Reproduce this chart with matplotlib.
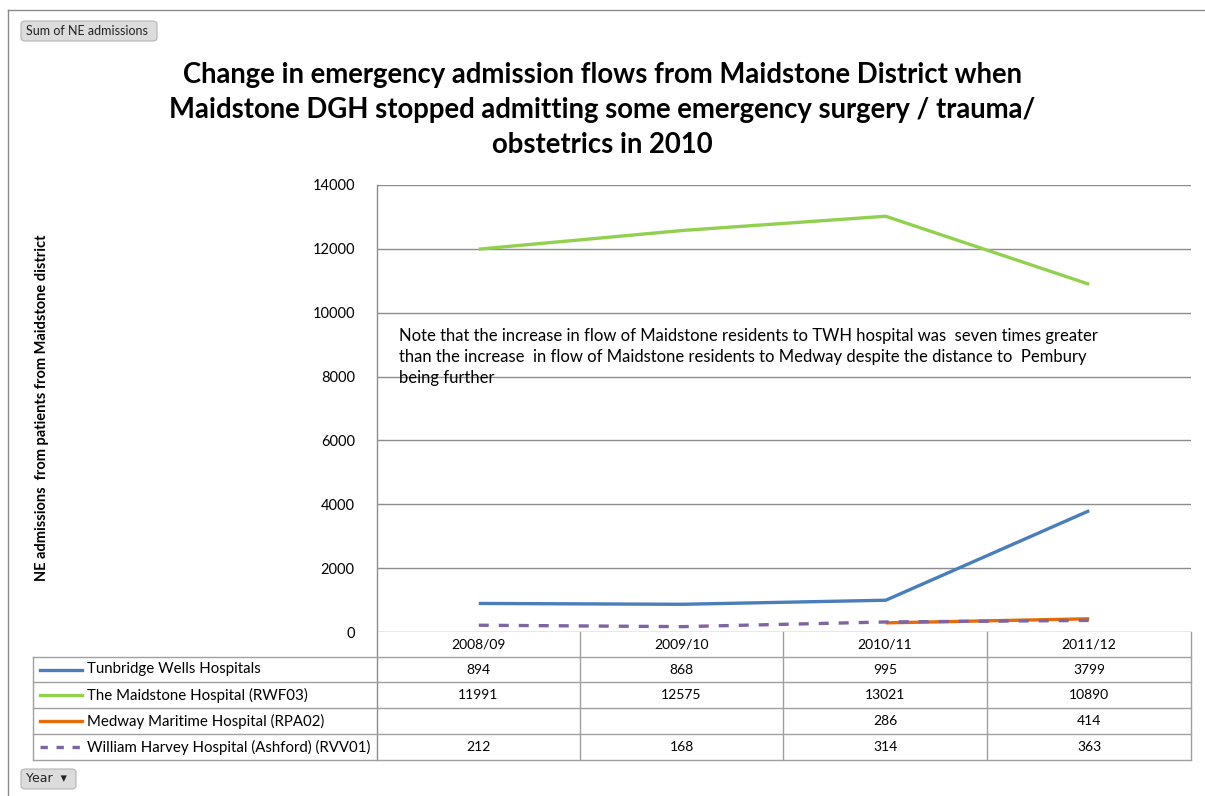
import numpy as np
import matplotlib
matplotlib.use("Agg")
from matplotlib import pyplot as plt
from matplotlib.patches import FancyBboxPatch
from matplotlib.lines import Line2D

plt.rcParams['font.family'] = ['Lato', 'DejaVu Sans']

# data
years = ["2008/09", "2009/10", "2010/11", "2011/12"]
series_names = ["Tunbridge Wells Hospitals",
                "The Maidstone Hospital (RWF03)",
                "Medway Maritime Hospital (RPA02)",
                "William Harvey Hospital (Ashford) (RVV01)"]
tunbridge = [894, 868, 995, 3799]
maidstone = [11991, 12575, 13021, 10890]
medway = [np.nan, np.nan, 286, 414]
harvey = [212, 168, 314, 363]
values = [tunbridge, maidstone, medway, harvey]
colors = ["#4A7EBB", "#92D050", "#E46C0A", "#8064A2"]
styles = ["-", "-", "-", (0, (3, 3))]
yticks = [0, 2000, 4000, 6000, 8000, 10000, 12000, 14000]

W, H = 1205, 796
fig = plt.figure(figsize=(W / 100, H / 100), dpi=100)

def fx(x):
    return x / W

def fy(y):
    return 1 - y / H

def hline(y, x0, x1, c="#a0a0a0", lw=1.0):
    fig.add_artist(Line2D([fx(x0), fx(x1)], [fy(y), fy(y)], color=c, lw=lw))

def vline(x, y0, y1, c="#a0a0a0", lw=1.0):
    fig.add_artist(Line2D([fx(x), fx(x)], [fy(y0), fy(y1)], color=c, lw=lw))

# outer frame
hline(10, 8, 1205, c="#8a8a8a")
vline(8, 10, 796, c="#8a8a8a")

# plot area
left, right, top, bottom = 377, 1191, 185, 632
ax = fig.add_axes([fx(left), fy(bottom), fx(right - left), (bottom - top) / H])
for i, (vals, col, ls) in enumerate(zip(values, colors, styles)):
    ax.plot(range(len(years)), vals, color=col, lw=2.4, linestyle=ls,
            solid_capstyle="butt", zorder=3 + (i == 3))
ax.set_xlim(-0.5, len(years) - 0.5)
ax.set_ylim(0, 14000)
ax.set_yticks(yticks)
ax.set_yticklabels([str(v) for v in yticks], fontsize=10.5)
ax.set_xticks([])
ax.yaxis.grid(True, color="#8c8c8c", lw=1.0)
ax.set_axisbelow(True)
ax.tick_params(axis="y", length=0, pad=16)
for s in ax.spines.values():
    s.set_visible(False)

# left axis line runs through the table
vline(left, top, 760, c="#8c8c8c")

ax.text(0.027, 0.680,
        "Note that the increase in flow of Maidstone residents to TWH hospital was  seven times greater\n"
        "than the increase  in flow of Maidstone residents to Medway despite the distance to  Pembury\n"
        "being further",
        transform=ax.transAxes, fontsize=12, va="top", ha="left", linespacing=1.38)

# title
fig.text(0.5, fy(110),
         "Change in emergency admission flows from Maidstone District when\n"
         "Maidstone DGH stopped admitting some emergency surgery / trauma/\n"
         "obstetrics in 2010",
         ha="center", va="center", fontsize=19.8, fontweight="bold", linespacing=1.42)

fig.text(fx(42), fy(408), "NE admissions  from patients from Maidstone district",
         rotation=90, ha="center", va="center", fontsize=10.5, fontweight="bold")

# data table
col_x = [377, 580, 783, 987, 1191]
row_y = [632, 657, 682, 708, 734, 760]
for y in row_y[1:]:
    hline(y, 33, 1191)
vline(33, row_y[1], row_y[-1])
for x in col_x[1:]:
    vline(x, row_y[0], row_y[-1])
for j, yr in enumerate(years):
    fig.text(fx((col_x[j] + col_x[j + 1]) / 2), fy((row_y[0] + row_y[1]) / 2), yr,
             ha="center", va="center", fontsize=10)
for i, (name, vals, col, ls) in enumerate(zip(series_names, values, colors, styles)):
    yc = (row_y[i + 1] + row_y[i + 2]) / 2
    fig.add_artist(Line2D([fx(40), fx(82)], [fy(yc), fy(yc)], color=col, lw=2.4,
                          linestyle=(0, (2.2, 2.6)) if i == 3 else "-"))
    fig.text(fx(87), fy(yc), name, ha="left", va="center", fontsize=10.8)
    for j, v in enumerate(vals):
        if not np.isnan(v):
            fig.text(fx((col_x[j] + col_x[j + 1]) / 2), fy(yc), str(int(v)),
                     ha="center", va="center", fontsize=10)

# pivot buttons
for (x0, y0, x1, y1, label) in [(21, 21, 157, 41, "Sum of NE admissions"),
                                (21, 769, 76, 789, "Year  \u25BE")]:
    fig.add_artist(FancyBboxPatch((fx(x0), fy(y1)), fx(x1 - x0), (y1 - y0) / H,
                                  boxstyle="round,pad=0,rounding_size=0.004",
                                  transform=fig.transFigure, facecolor="#dcdcdc",
                                  edgecolor="#b4b4b4", lw=0.8))
    fig.text(fx(x0 + 5), fy((y0 + y1) / 2), label, ha="left", va="center",
             fontsize=9, color="#222222", family=["DejaVu Sans"] if "Year" in label else None)

fig.savefig("out.png", dpi=100)
